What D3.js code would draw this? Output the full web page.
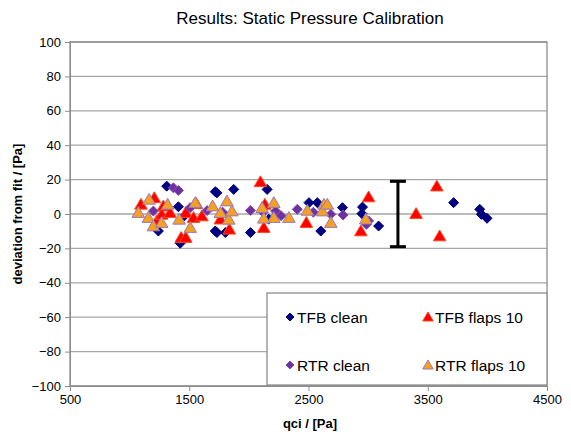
<!DOCTYPE html>
<html><head><meta charset="utf-8">
<script src="https://cdn.jsdelivr.net/npm/d3@7/dist/d3.min.js"></script>
<style>body{margin:0;background:#fff}svg{font-family:"Liberation Sans",Arial,sans-serif}</style>
</head><body><svg id="c" width="571" height="437"></svg>
<script>
const xTicks = [500,1500,2500,3500,4500];
const yTicks = [100,80,60,40,20,0,-20,-40,-60,-80,-100];
const seriesNames = ["TFB clean","TFB flaps 10","RTR clean","RTR flaps 10"];
const tfbClean = [[1311,16.2],[1241,-9.9],[1409,4.2],[1424,-17],[1460,-1],[1718,13],[1732,12.3],[1718,-9.9],[1732,-10.8],[1803,-10.8],[1873,14.3],[2013,-10.8],[2153,14.3],[2167,-3],[2504,6.6],[2574,6.6],[2603,-9.9],[2785,3.7],[2953,4],[2948,0.2],[3088,-7],[3717,6.6],[3936,2.7],[3950,-0.2],[3997,-2.5]];
const tfbFlaps = [[1095,5.6],[1207,9.4],[1283,4.6],[1227,-4],[1269,-0.2],[1339,0.8],[1471,0.8],[1432,-13.7],[1471,-13.7],[1536,-2.1],[1606,-1.2],[1560,6],[1761,-3],[1836,-8.9],[2097,18.7],[2125,-7.9],[2134,5.6],[2482,-5],[2939,-9.9],[3004,9.9],[3402,0.2],[3576,16.2],[3600,-12.8]];
const rtrClean = [[1367,15.2],[1409,13.7],[1199,1.7],[1508,3.7],[1650,2],[2013,2.1],[2120,1],[2224,1.7],[2270,-1],[2406,2.7],[2540,1],[2687,-0.2],[2790,-0.6],[3004,-4],[2986,-6],[1780,1]];
const rtrFlaps = [[1073,0.8],[1163,8.5],[1157,-2.1],[1199,-7],[1269,-5],[1319,5.6],[1415,-3.1],[1508,-7.9],[1550,6.6],[1696,4.6],[1761,0.8],[1816,7.5],[1831,-3.1],[1858,1.7],[2111,3.7],[2209,6.6],[2209,-2.1],[2125,-2.5],[2336,-2.1],[2490,2.1],[2630,5.6],[2616,1.7],[2658,5.6],[2687,-5],[2980,-3]];
const errBar = {x:3250, lo:-19, hi:19};

const svg = d3.select("#c");
const L=70,R=547,T=42,B=386;
const x = d3.scaleLinear().domain([500,4500]).range([L,R]);
const y = d3.scaleLinear().domain([-100,100]).range([B,T]);

svg.append("g").selectAll("line").data(yTicks).join("line")
  .attr("x1",L).attr("x2",R).attr("y1",d=>y(d)).attr("y2",d=>y(d))
  .attr("stroke","#a6a6a6").attr("stroke-width",1.3);
svg.append("rect").attr("x",L).attr("y",T).attr("width",R-L).attr("height",B-T)
  .attr("fill","none").attr("stroke","#8c8c8c").attr("stroke-width",1.3);

const yAx = svg.append("g").attr("transform",`translate(${L},0)`)
  .call(d3.axisLeft(y).tickValues(yTicks).tickSize(5).tickPadding(4));
const xAx = svg.append("g").attr("transform",`translate(0,${B})`)
  .call(d3.axisBottom(x).tickValues(xTicks).tickSize(5).tickPadding(4).tickFormat(d3.format("d")));
[yAx,xAx].forEach(a=>{a.select(".domain").attr("stroke","#8c8c8c");a.selectAll(".tick line").attr("stroke","#8c8c8c");
  a.selectAll("text").attr("font-size",13).attr("fill","#000").attr("font-family","Liberation Sans, Arial, sans-serif");});

svg.append("text").attr("x",310).attr("y",24).attr("text-anchor","middle").attr("font-size",17).text("Results: Static Pressure Calibration");
svg.append("text").attr("x",310).attr("y",428).attr("text-anchor","middle").attr("font-size",13).attr("font-weight","bold").text("qci / [Pa]");
svg.append("text").attr("transform",`translate(22,${(T+B)/2}) rotate(-90)`).attr("text-anchor","middle").attr("font-size",13).attr("font-weight","bold").text("deviation from fit / [Pa]");

const diamond = s=>`M0,${-s}L${s},0L0,${s}L${-s},0Z`;
const tri = s=>`M0,${-s}L${s*1.05},${s*0.8}L${-s*1.05},${s*0.8}Z`;
const styles = [
  {data:tfbClean, path:diamond(5), fill:"#000080", stroke:"#000080"},
  {data:tfbFlaps, path:tri(6), fill:"#ff0000", stroke:"#ff4a1a"},
  {data:rtrClean, path:diamond(5), fill:"#7030a0", stroke:"#8050b0"},
  {data:rtrFlaps, path:tri(6), fill:"#f5a01e", stroke:"#9a78c0"}
];
styles.forEach(s=>{
  svg.append("g").selectAll("path").data(s.data).join("path")
    .attr("transform",d=>`translate(${x(d[0])},${y(d[1])})`)
    .attr("d",s.path).attr("fill",s.fill).attr("stroke",s.stroke).attr("stroke-width",1);
});

const eb = svg.append("g").attr("stroke","#000").attr("stroke-width",3);
eb.append("line").attr("x1",x(errBar.x)).attr("x2",x(errBar.x)).attr("y1",y(errBar.hi)).attr("y2",y(errBar.lo));
[errBar.hi,errBar.lo].forEach(v=>eb.append("line").attr("x1",x(errBar.x)-8).attr("x2",x(errBar.x)+8).attr("y1",y(v)).attr("y2",y(v)));

const lg = svg.append("g");
lg.append("rect").attr("x",267).attr("y",293).attr("width",280).attr("height",92).attr("fill","#fff").attr("stroke","#8c8c8c").attr("stroke-width",1.3);
const legPos = [[290,317],[428,317],[290,365],[428,365]];
const legSym = [diamond(4),tri(5),diamond(4),tri(5)];
styles.forEach((s,i)=>{
  lg.append("path").attr("transform",`translate(${legPos[i][0]},${legPos[i][1]})`).attr("d",legSym[i]).attr("fill",s.fill).attr("stroke",s.stroke);
  lg.append("text").attr("x",legPos[i][0]+7).attr("y",legPos[i][1]+5.5).attr("font-size",15.5).text(seriesNames[i]);
});
</script></body></html>
